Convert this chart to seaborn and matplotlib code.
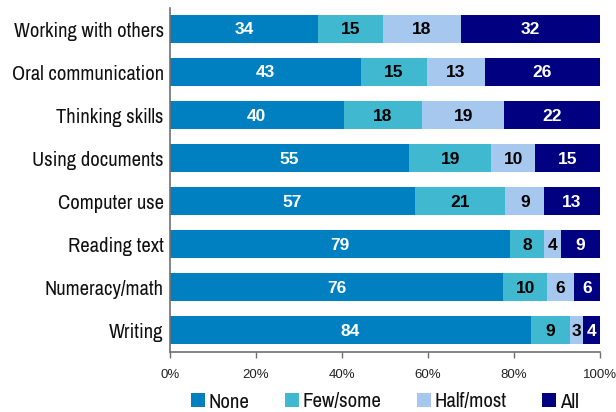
import numpy as np
import pandas as pd
import matplotlib
matplotlib.use("Agg")
import matplotlib.pyplot as plt
from matplotlib.patches import Patch
import seaborn as sns

skills = ["Working with others", "Oral communication", "Thinking skills",
          "Using documents", "Computer use", "Reading text",
          "Numeracy/math", "Writing"]
groups = ["None", "Few/some", "Half/most", "All"]
none_vals = [34, 43, 40, 55, 57, 79, 76, 84]
few_vals = [15, 15, 18, 19, 21, 8, 10, 9]
half_vals = [18, 13, 19, 10, 9, 4, 6, 3]
all_vals = [32, 26, 22, 15, 13, 9, 6, 4]
x_ticks = [0, 20, 40, 60, 80, 100]

colors = ["#0080C0", "#40B8CF", "#A6C8EE", "#000080"]
text_colors = ["white", "black", "black", "white"]

sns.set_theme(style="white")
narrow = ["Archivo Narrow", "Liberation Sans", "DejaVu Sans"]
plt.rcParams["font.family"] = ["Liberation Sans", "DejaVu Sans"]

raw = np.array([none_vals, few_vals, half_vals, all_vals], dtype=float)
# 100% stacked: each row is shown as its share of the row total
shares = raw / raw.sum(axis=0) * 100
cum = np.cumsum(shares, axis=0)

fig = plt.figure(figsize=(6.16, 4.12), dpi=100)
ax = fig.add_axes([170 / 616, 1 - 352 / 412, 430 / 616, 344.5 / 412])

# draw cumulative totals from the outermost segment inward
for i in range(len(groups) - 1, -1, -1):
    df = pd.DataFrame({"skill": skills, "value": cum[i]})
    sns.barplot(data=df, x="value", y="skill", orient="h", color=colors[i],
                saturation=1, width=0.65, ax=ax, edgecolor="none",
                linewidth=0)

for j in range(len(skills)):
    for i in range(len(groups)):
        start = cum[i, j] - shares[i, j]
        ax.text(start + shares[i, j] / 2, j + 0.02, f"{int(raw[i, j])}",
                ha="center", va="center", color=text_colors[i],
                fontsize=12.5, fontweight="bold",
                family=["Liberation Sans", "DejaVu Sans"])

ax.set_xlim(0, 100)
ax.set_ylim(7.5, -0.5)
ax.set_xticks(x_ticks)
ax.set_xticklabels([f"{t}%" for t in x_ticks], fontsize=9.5)
ax.set_xlabel("")
ax.set_ylabel("")
ax.tick_params(axis="x", direction="out", length=4, width=1, color="#707070",
               pad=8, bottom=True, labelcolor="#222222")
ax.tick_params(axis="y", length=0, pad=4.5)
for lab in ax.get_yticklabels():
    lab.set_family(narrow)
    lab.set_fontsize(14.8)
    lab.set_color("#111111")
for s in ["top", "right"]:
    ax.spines[s].set_visible(False)
for s in ["left", "bottom"]:
    ax.spines[s].set_color("#707070")
    ax.spines[s].set_linewidth(1.2)

handles = [Patch(facecolor=c, edgecolor="none") for c in colors]
leg = ax.legend(handles, groups, loc="center",
                bbox_to_anchor=(0.5, -50 / 344.5), ncol=4, frameon=False,
                handlelength=0.65, handleheight=0.65, handletextpad=0.2,
                columnspacing=1.7, borderpad=0,
                prop={"family": narrow, "size": 15})
for t in leg.get_texts():
    t.set_color("#111111")

fig.savefig("out.png", dpi=100)
